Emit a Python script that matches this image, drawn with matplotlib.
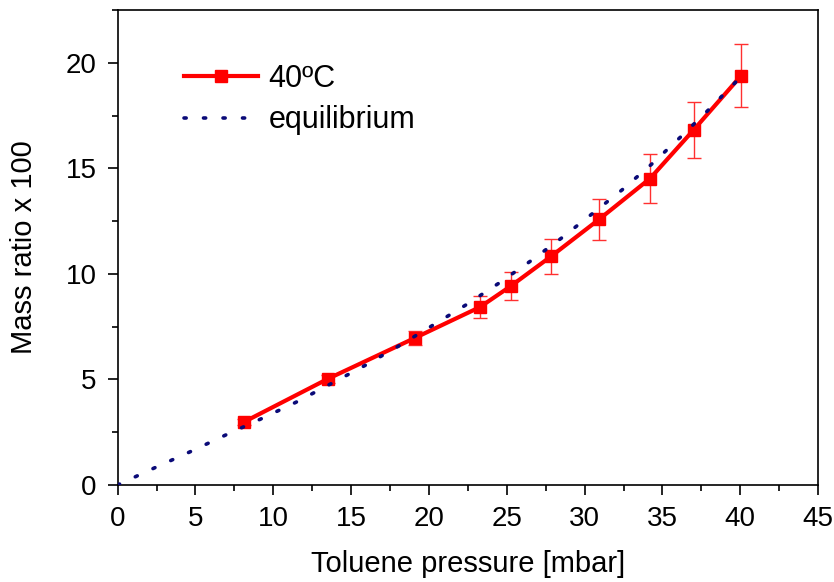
import matplotlib
matplotlib.use("Agg")
import matplotlib.pyplot as plt
from matplotlib.ticker import MultipleLocator
from matplotlib.lines import Line2D

plt.rcParams['font.family'] = ['Liberation Sans', 'DejaVu Sans']

# data: 40ºC measurements
pressure = [8.13, 13.51, 19.08, 23.28, 25.25, 27.84, 30.92, 34.2, 37.0, 40.06]
mass_ratio = [2.99, 5.03, 6.96, 8.43, 9.42, 10.83, 12.58, 14.52, 16.82, 19.40]
mass_err = [0.15, 0.2, 0.35, 0.52, 0.67, 0.83, 0.98, 1.15, 1.31, 1.47]

# equilibrium curve
eq_pressure = [0, 2.34, 4.65, 6.92, 9.21, 11.46, 13.69, 15.91, 18.07, 20.21,
               22.33, 24.45, 26.49, 28.5, 30.47, 32.42, 34.32, 36.14, 37.94,
               39.72, 40.04]
eq_ratio = [0, 0.80, 1.57, 2.36, 3.13, 3.92, 4.79, 5.67, 6.59, 7.55,
            8.51, 9.54, 10.59, 11.69, 12.84, 13.99, 15.21, 16.47, 17.76,
            19.10, 19.35]

xticks = [0, 5, 10, 15, 20, 25, 30, 35, 40, 45]
yticks = [0, 5, 10, 15, 20]

fig = plt.figure(figsize=(8.34, 5.82), dpi=100)
ax = fig.add_axes([0.141, 0.1667, 0.840, 0.816])

eq_style = dict(color='#0a0a78', lw=2.6, linestyle=(0, (0.6, 4.8)),
                dash_capstyle='round')
ax.plot(eq_pressure, eq_ratio, zorder=4, **eq_style)
ax.errorbar(pressure, mass_ratio, yerr=mass_err, color='#ff0000', lw=3,
            marker='s', markersize=8, ecolor='#ff3030', elinewidth=1,
            capsize=5, capthick=1, zorder=3)

ax.set_xlim(0, 45)
ax.set_ylim(0, 22.5)
ax.set_xticks(xticks)
ax.set_yticks(yticks)
ax.xaxis.set_minor_locator(MultipleLocator(2.5))
ax.yaxis.set_minor_locator(MultipleLocator(2.5))
ax.tick_params(which='major', direction='out', length=7, width=1.2,
               labelsize=20, pad=8)
ax.tick_params(which='minor', direction='out', length=4, width=1.2)
ax.tick_params(top=False, right=False)
for s in ax.spines.values():
    s.set_linewidth(1.2)

ax.set_xlabel('Toluene pressure [mbar]', fontsize=21, labelpad=13)
ax.set_ylabel('Mass ratio x 100', fontsize=21, labelpad=20)

h1 = Line2D([], [], color='#ff0000', lw=3, marker='s', markersize=8)
h2 = Line2D([], [], **eq_style)
ax.legend([h1, h2], ['40ºC', 'equilibrium'],
          loc='upper left', bbox_to_anchor=(0.055, 0.945), frameon=False,
          fontsize=22, handlelength=2.45, handletextpad=0.33,
          labelspacing=0.38)

fig.savefig('out.png', dpi=100)
